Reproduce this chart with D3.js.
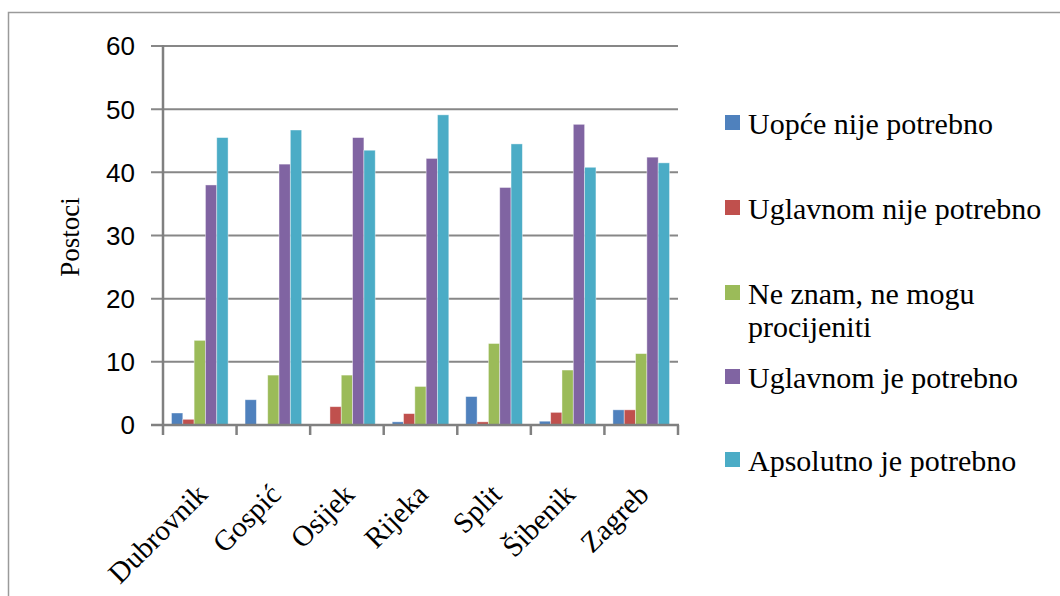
<!DOCTYPE html>
<html>
<head>
<meta charset="utf-8">
<script src="https://cdnjs.cloudflare.com/ajax/libs/d3/7.8.5/d3.min.js"></script>
<style>
  html, body { margin: 0; padding: 0; background: #fff; }
  svg { display: block; }
  .serif { font-family: 'Liberation Serif', 'Times New Roman', serif; }
  .sans { font-family: 'Liberation Sans', Arial, sans-serif; }
</style>
</head>
<body>
<div id="chart"></div>
<script>
const cities = ['Dubrovnik', 'Gospić', 'Osijek', 'Rijeka', 'Split', 'Šibenik', 'Zagreb'];
const seriesNames = ['Uopće nije potrebno', 'Uglavnom nije potrebno', 'Ne znam, ne mogu procijeniti', 'Uglavnom je potrebno', 'Apsolutno je potrebno'];
const uopceNije = [1.9, 4.0, 0, 0.5, 4.5, 0.6, 2.4];
const uglavnomNije = [0.9, 0, 2.9, 1.8, 0.5, 2.0, 2.4];
const neZnam = [13.4, 7.9, 7.9, 6.1, 12.9, 8.7, 11.3];
const uglavnomJe = [38.0, 41.3, 45.5, 42.2, 37.6, 47.6, 42.4];
const apsolutnoJe = [45.5, 46.7, 43.5, 49.1, 44.5, 40.8, 41.5];
const yTicks = [0, 10, 20, 30, 40, 50, 60];
const colors = ['#4f81bd', '#c0504d', '#9bbb59', '#8064a2', '#4bacc6'];

const values = [uopceNije, uglavnomNije, neZnam, uglavnomJe, apsolutnoJe];

const width = 1060, height = 596;
const svg = d3.select('#chart').append('svg')
  .attr('width', width)
  .attr('height', height);

// outer frame (runs off the right and bottom edges)
svg.append('rect')
  .attr('x', 8.5).attr('y', 12.5)
  .attr('width', 1200).attr('height', 800)
  .attr('fill', 'none')
  .attr('stroke', '#9a9a9a')
  .attr('stroke-width', 1.5);

const plot = { left: 163, right: 678, top: 46, bottom: 425 };

const x = d3.scaleBand().domain(cities).range([plot.left, plot.right]);
// Excel gap width ~30% : group = band / 1.3
const xInner = d3.scaleBand().domain(d3.range(seriesNames.length))
  .range([x.bandwidth() * 0.15 / 1.3, x.bandwidth() * 1.15 / 1.3]);
const y = d3.scaleLinear().domain([0, 60]).range([plot.bottom, plot.top]);

// gridlines
svg.append('g')
  .selectAll('line')
  .data(yTicks.filter(d => d > 0))
  .join('line')
  .attr('x1', plot.left - 12).attr('x2', plot.right)
  .attr('y1', d => y(d)).attr('y2', d => y(d))
  .attr('stroke', '#878787')
  .attr('stroke-width', 2);

// bars
const groups = svg.append('g')
  .selectAll('g')
  .data(values)
  .join('g')
  .attr('fill', (d, i) => colors[i]);

groups.selectAll('rect')
  .data((d, i) => d.map((v, j) => ({ v, j, i })))
  .join('rect')
  .attr('x', d => x(cities[d.j]) + xInner(d.i))
  .attr('y', d => y(d.v))
  .attr('width', xInner.bandwidth())
  .attr('height', d => plot.bottom - y(d.v))
  .attr('stroke', d => d.v > 0 ? 'rgba(255,255,255,0.5)' : 'none')
  .attr('stroke-width', 0.8);

// y axis line
svg.append('line')
  .attr('x1', plot.left).attr('x2', plot.left)
  .attr('y1', plot.top - 1).attr('y2', plot.bottom + 10)
  .attr('stroke', '#808080').attr('stroke-width', 2.5);

// x axis line + ticks
svg.append('line')
  .attr('x1', plot.left - 12).attr('x2', plot.right + 1)
  .attr('y1', plot.bottom).attr('y2', plot.bottom)
  .attr('stroke', '#808080').attr('stroke-width', 2.5);

svg.append('g')
  .selectAll('line')
  .data(cities.slice(1).map(c => x(c)).concat([plot.right]))
  .join('line')
  .attr('x1', d => d).attr('x2', d => d)
  .attr('y1', plot.bottom).attr('y2', plot.bottom + 10)
  .attr('stroke', '#808080').attr('stroke-width', 2.5);

// y tick labels
svg.append('g')
  .selectAll('text')
  .data(yTicks)
  .join('text')
  .attr('class', 'sans')
  .attr('x', 135)
  .attr('y', d => y(d))
  .attr('dy', '0.36em')
  .attr('text-anchor', 'end')
  .attr('font-size', 26)
  .text(d => d);

// y title
svg.append('text')
  .attr('class', 'serif')
  .attr('transform', 'translate(70,237) rotate(-90)')
  .attr('text-anchor', 'middle')
  .attr('dy', '0.35em')
  .attr('font-size', 27)
  .text('Postoci');

// x labels rotated
svg.append('g')
  .selectAll('text')
  .data(cities)
  .join('text')
  .attr('class', 'serif')
  .attr('transform', d => `translate(${x(d) + x.bandwidth() / 2 + 2},${plot.bottom + 64}) rotate(-45)`)
  .attr('text-anchor', 'end')
  .attr('dy', '0.35em')
  .attr('font-size', 29)
  .text(d => d);

// legend
const legendY = [123, 208, 293, 377, 460];
const legend = svg.append('g')
  .selectAll('g')
  .data(seriesNames)
  .join('g')
  .attr('transform', (d, i) => `translate(725,${legendY[i]})`);

legend.append('rect')
  .attr('x', 0).attr('y', -8)
  .attr('width', 15).attr('height', 15)
  .attr('fill', (d, i) => colors[i]);

legend.append('text')
  .attr('class', 'serif')
  .attr('font-size', 30)
  .each(function (d) {
    const t = d3.select(this);
    const lines = d === 'Ne znam, ne mogu procijeniti' ? ['Ne znam, ne mogu', 'procijeniti'] : [d];
    lines.forEach((l, k) => {
      t.append('tspan').attr('x', 23).attr('dy', k === 0 ? '0.35em' : '1.13em').text(l);
    });
  });
</script>
</body>
</html>
